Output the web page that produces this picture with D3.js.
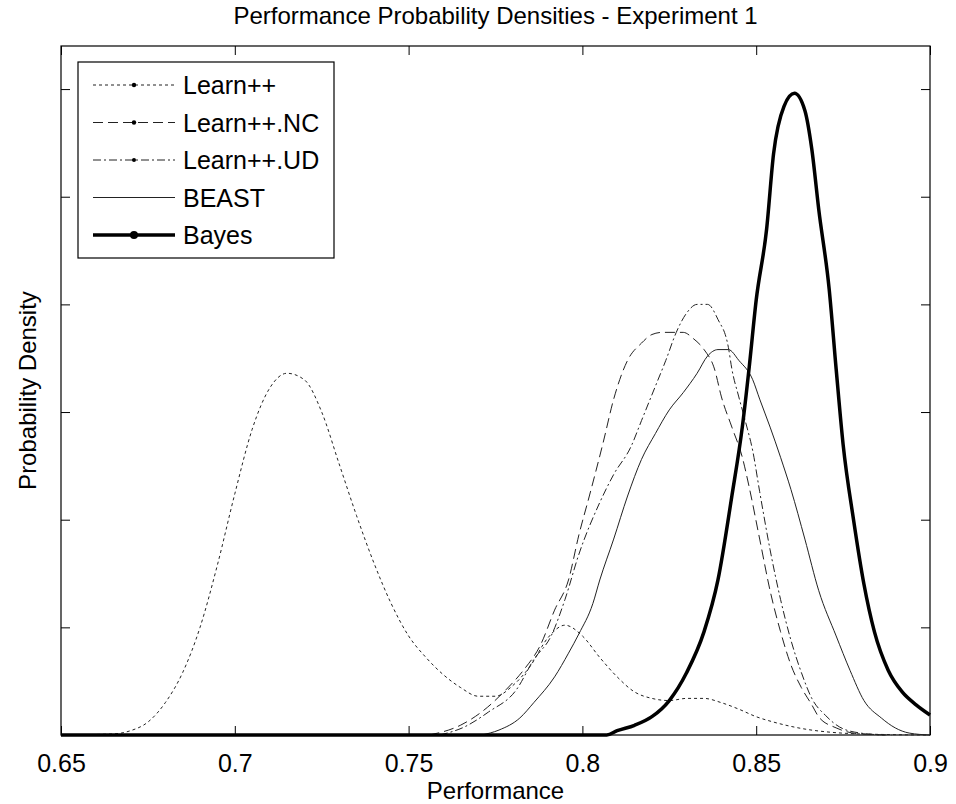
<!DOCTYPE html>
<html>
<head>
<meta charset="utf-8">
<script src="https://cdn.jsdelivr.net/npm/d3@7"></script>
<style>
  body { margin: 0; background: #fff; }
  text { font-family: "Liberation Sans", Arial, sans-serif; fill: #000; }
</style>
</head>
<body>
<script>
// Performance probability densities, experiment 1

// series (performance, density)
const learnX = [0.650,0.665,0.670,0.675,0.680,0.685,0.690,0.695,0.700,0.705,0.710,0.715,0.720,0.725,0.730,0.735,0.740,0.745,0.750,0.755,0.760,0.765,0.770,0.775,0.780,0.785,0.790,0.795,0.800,0.805,0.810,0.815,0.820,0.825,0.830,0.835,0.840,0.845,0.850,0.855,0.860,0.865,0.870,0.880,0.900];
const learnY = [0,0.05,0.2,0.6,1.5,2.9,5.0,7.9,11.2,14.2,16.1,16.8,16.5,15.0,12.6,10.2,8.0,6.1,4.6,3.6,2.8,2.2,1.8,1.8,2.3,3.2,4.5,5.1,4.6,3.6,2.7,2.0,1.7,1.6,1.7,1.7,1.5,1.2,0.85,0.6,0.4,0.25,0.15,0.05,0];

const ncX = [0.756,0.765,0.771,0.778,0.783,0.788,0.792,0.796,0.799,0.802,0.806,0.809,0.813,0.817,0.820,0.823,0.829,0.832,0.835,0.838,0.840,0.843,0.846,0.848,0.851,0.854,0.857,0.860,0.863,0.866,0.868,0.873,0.880,0.889];
const ncY = [0,0.46,1.07,2.1,3.0,4.2,5.8,7.2,9.3,11.1,13.6,15.6,17.4,18.2,18.6,18.7,18.7,18.4,17.9,17.0,15.7,14.3,12.9,11.5,9.1,6.7,4.8,3.25,2.2,1.4,0.84,0.33,0.05,0];

const udX = [0.759,0.766,0.773,0.781,0.786,0.791,0.795,0.799,0.805,0.809,0.814,0.817,0.821,0.824,0.827,0.830,0.833,0.836,0.839,0.842,0.843,0.845,0.847,0.849,0.851,0.854,0.857,0.860,0.863,0.866,0.870,0.874,0.880,0.887];
const udY = [0,0.37,1.07,2.1,3.5,4.6,6.3,8.4,10.8,12.1,13.4,14.6,16.2,17.4,18.7,19.6,20.0,20.0,19.3,18.0,17.0,15.7,14.5,13.2,11.3,8.6,6.3,4.4,2.9,1.7,0.9,0.37,0.09,0];

const beastX = [0.771,0.776,0.782,0.786,0.792,0.796,0.799,0.803,0.805,0.809,0.813,0.817,0.821,0.825,0.829,0.833,0.836,0.839,0.842,0.845,0.849,0.851,0.854,0.857,0.860,0.864,0.868,0.873,0.877,0.881,0.886,0.890,0.894,0.900];
const beastY = [0,0.23,0.79,1.5,2.7,3.8,4.7,6.1,7.2,9.1,11.1,12.8,14.0,15.1,15.9,16.8,17.6,17.9,17.9,17.4,16.5,15.6,14.3,12.9,11.4,9.1,6.7,4.6,3.0,1.6,0.79,0.33,0.09,0];

const bayesX = [0.650,0.807,0.810,0.815,0.820,0.825,0.830,0.835,0.839,0.843,0.846,0.848,0.850,0.853,0.855,0.858,0.861,0.864,0.866,0.868,0.871,0.873,0.875,0.878,0.881,0.884,0.888,0.892,0.896,0.900];
const bayesY = [0,0,0.2,0.45,0.85,1.6,2.9,4.8,7.2,11.1,14.3,17.1,20.2,23.5,27.0,29.2,29.8,29.0,27.2,24.4,20.7,17.0,13.5,10.0,7.0,4.8,3.0,2.0,1.4,0.93];

const seriesNames = ["Learn++", "Learn++.NC", "Learn++.UD", "BEAST", "Bayes"];
const xTicks = [0.65, 0.7, 0.75, 0.8, 0.85, 0.9];
const yTicks = [5, 10, 15, 20, 25, 30];

const styles = [
  {dash: "3,3", width: 1, r: 2.2},
  {dash: "10,5", width: 1, r: 2.2},
  {dash: "8,3,2,3", width: 1, r: 2},
  {dash: null, width: 1, r: 0},
  {dash: null, width: 3.5, r: 4}
];

let margin = {top: 46, left: 61, bottom: 69, right: 26};
let width = 956 - margin.left - margin.right;
let height = 804 - margin.top - margin.bottom;

let svg = d3.select("body").append("svg")
  .attr("width", 956)
  .attr("height", 804);

let g = svg.append("g")
  .attr("transform", "translate(" + margin.left + "," + margin.top + ")");

let x = d3.scaleLinear().domain([0.65, 0.9]).range([0, width]);
let y = d3.scaleLinear().domain([0, 32]).range([height, 0]);

let series = [
  d3.zip(learnX, learnY),
  d3.zip(ncX, ncY),
  d3.zip(udX, udY),
  d3.zip(beastX, beastY),
  d3.zip(bayesX, bayesY)
];

// box
g.append("rect")
  .attr("width", width)
  .attr("height", height)
  .attr("fill", "none")
  .attr("stroke", "#000")
  .attr("stroke-width", 1.2);

// axes, ticks inside like matlab
let xAxis = g.append("g")
  .attr("transform", "translate(0," + height + ")")
  .call(d3.axisBottom(x).tickValues(xTicks).tickSizeInner(-9).tickSizeOuter(0).tickPadding(19)
    .tickFormat(d3.format("")));
xAxis.selectAll("text").style("font-size", "25px");

g.append("g")
  .call(d3.axisTop(x).tickValues(xTicks).tickSizeInner(-9).tickSizeOuter(0).tickFormat(""));
g.append("g")
  .call(d3.axisLeft(y).tickValues(yTicks).tickSizeInner(-9).tickSizeOuter(0).tickFormat(""));
g.append("g")
  .attr("transform", "translate(" + width + ",0)")
  .call(d3.axisRight(y).tickValues(yTicks).tickSizeInner(-9).tickSizeOuter(0).tickFormat(""));
g.selectAll(".domain").remove();

// curves
let line = d3.line()
  .x(function(d) { return x(d[0]); })
  .y(function(d) { return y(d[1]); })
  .curve(d3.curveMonotoneX);

g.selectAll(".curve")
  .data(series)
  .enter().append("path")
  .attr("class", "curve")
  .attr("d", line)
  .attr("fill", "none")
  .attr("stroke", function(d, i) { return i == 4 ? "#000" : "#222"; })
  .attr("stroke-width", function(d, i) { return styles[i].width; })
  .attr("stroke-dasharray", function(d, i) { return styles[i].dash; })
  .attr("stroke-linejoin", "round");

// titles
svg.append("text")
  .attr("x", margin.left + width / 2)
  .attr("y", 24)
  .attr("text-anchor", "middle")
  .style("font-size", "24px")
  .text("Performance Probability Densities - Experiment 1");

svg.append("text")
  .attr("x", margin.left + width / 2)
  .attr("y", 799)
  .attr("text-anchor", "middle")
  .style("font-size", "24px")
  .text("Performance");

svg.append("text")
  .attr("transform", "translate(36," + (margin.top + height / 2) + ") rotate(-90)")
  .attr("text-anchor", "middle")
  .style("font-size", "24px")
  .text("Probability Density");

// legend
let legend = svg.append("g")
  .attr("transform", "translate(78,62)");

legend.append("rect")
  .attr("width", 256)
  .attr("height", 196)
  .attr("fill", "#fff")
  .attr("stroke", "#000")
  .attr("stroke-width", 1.2);

let item = legend.selectAll(".legend")
  .data(seriesNames)
  .enter().append("g")
  .attr("class", "legend")
  .attr("transform", function(d, i) { return "translate(0," + (23 + i * 37.5) + ")"; });

item.append("line")
  .attr("x1", 15)
  .attr("x2", 97)
  .attr("stroke", function(d, i) { return i == 4 ? "#000" : "#222"; })
  .attr("stroke-width", function(d, i) { return styles[i].width; })
  .attr("stroke-dasharray", function(d, i) { return styles[i].dash; });

item.append("circle")
  .attr("cx", 56)
  .attr("r", function(d, i) { return styles[i].r; })
  .attr("fill", "#000");

item.append("text")
  .attr("x", 105)
  .attr("y", 9)
  .style("font-size", "25px")
  .text(function(d) { return d; });
</script>
</body>
</html>
